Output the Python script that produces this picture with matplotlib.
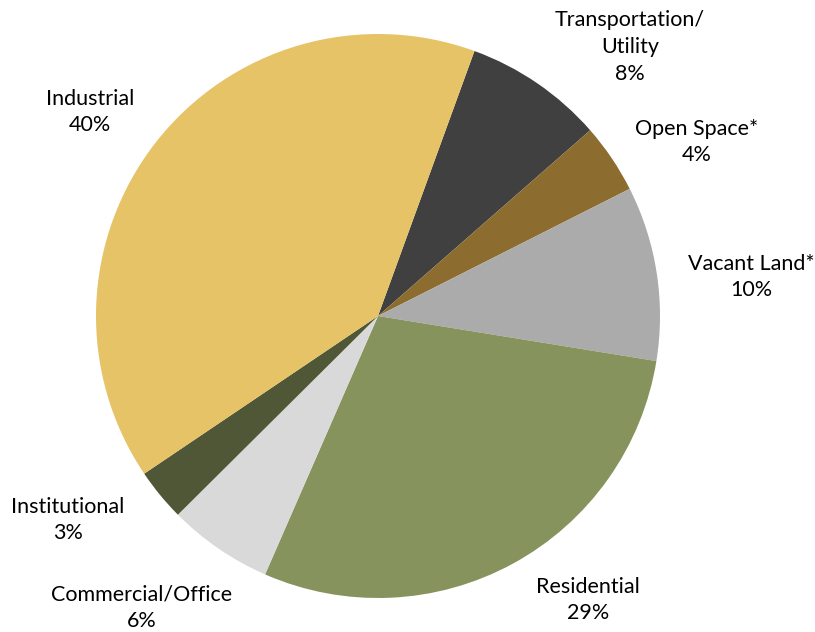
import matplotlib
matplotlib.use('Agg')
import matplotlib.pyplot as plt

# land use shares, clockwise starting at the Transportation slice
categories = ['Transportation/\nUtility', 'Open Space*', 'Vacant Land*', 'Residential',
              'Commercial/Office', 'Institutional', 'Industrial']
shares = [8, 4, 10, 29, 6, 3, 40]
colors = ['#404040', '#8C6D2F', '#ABABAB', '#87935C', '#D9D9D9', '#4F5737', '#E5C366']

# label spots (in pie-radius units), hand placed like the original
label_xy = [(0.894, 0.954), (1.131, 0.617), (1.323, 0.138), (0.745, -1.007),
            (-0.837, -1.035), (-1.099, -0.723), (-1.021, 0.723)]

plt.rcParams['font.family'] = ['Lato', 'DejaVu Sans']

fig = plt.figure(figsize=(8.15, 6.32), dpi=100)
# pie centre at (378, 316) px, radius 282 px
R = 282
ax = fig.add_axes([(378 - R) / 815, (632 - 316 - R) / 632, 2 * R / 815, 2 * R / 632])

ax.pie(shares, colors=colors, startangle=70, counterclock=False, radius=1,
       wedgeprops=dict(linewidth=0))
ax.set_xlim(-1, 1)
ax.set_ylim(-1, 1)
ax.set_aspect('equal')
ax.axis('off')

for name, val, (x, y) in zip(categories, shares, label_xy):
    ax.text(x, y, f'{name}\n{val}%', ha='center', va='center', fontsize=15.5,
            color='#000000', linespacing=1.42, clip_on=False)

fig.savefig('out.png', dpi=100)
